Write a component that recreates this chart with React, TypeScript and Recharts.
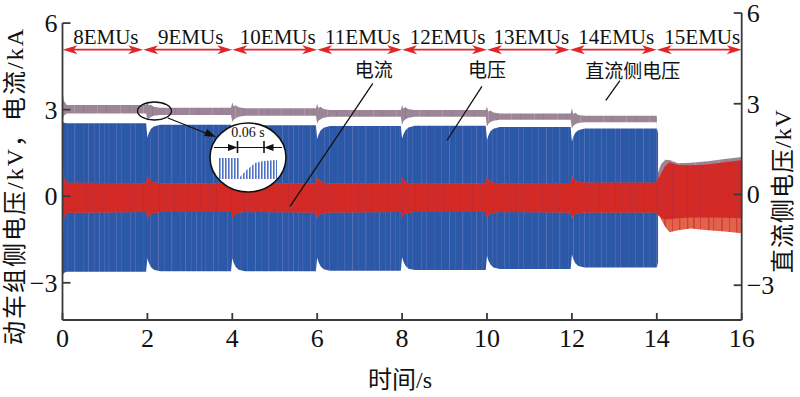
import React from 'react'
import { ComposedChart, Area, XAxis, YAxis, ReferenceLine } from 'recharts'

/** 采样时刻 (s) —— 每次投切前后取点，便于刻画暂态 */
const TIME = [
  0, 0.03, 0.1,
  1.97, 2.0, 2.03, 2.08, 2.15, 2.3,
  3.97, 4.0, 4.03, 4.08, 4.15, 4.3,
  5.97, 6.0, 6.03, 6.08, 6.15, 6.3,
  7.97, 8.0, 8.03, 8.08, 8.15, 8.3,
  9.97, 10.0, 10.03, 10.08, 10.15, 10.3,
  11.97, 12.0, 12.03, 12.08, 12.15, 12.3,
  13.97, 14.0, 14.03, 14.06, 14.1, 14.2, 14.3, 14.5, 14.8, 15.2, 15.6, 16,
]

/** 动车组侧电压包络 (kV) */
const VOLT_HI = [
  2.62, 2.55, 2.53,
  2.53, 2.03, 2.18, 2.33, 2.42, 2.48,
  2.48, 2.01, 2.16, 2.31, 2.4, 2.46,
  2.46, 1.98, 2.13, 2.28, 2.37, 2.43,
  2.43, 2.0, 2.14, 2.29, 2.38, 2.44,
  2.44, 1.95, 2.1, 2.25, 2.34, 2.4,
  2.4, 1.9, 2.05, 2.2, 2.29, 2.35,
  2.35, 2.35, 2.2, null, null, null, null, null, null, null, null, null,
]
const VOLT_LO = [
  -2.78, -2.66, -2.62,
  -2.62, -2.15, -2.3, -2.45, -2.55, -2.6,
  -2.6, -2.15, -2.3, -2.45, -2.55, -2.6,
  -2.6, -2.13, -2.28, -2.43, -2.53, -2.58,
  -2.58, -2.11, -2.26, -2.41, -2.51, -2.56,
  -2.56, -2.07, -2.22, -2.37, -2.47, -2.52,
  -2.52, -2.02, -2.17, -2.32, -2.42, -2.47,
  -2.47, -2.47, -2.3, null, null, null, null, null, null, null, null, null,
]

/** 电流包络 (kA) */
const CURR_HI = [
  1.5, 0.65, 0.47,
  0.45, 0.74, 0.6, 0.54, 0.48, 0.45,
  0.44, 0.7, 0.58, 0.52, 0.47, 0.44,
  0.44, 0.72, 0.6, 0.53, 0.47, 0.44,
  0.43, 0.68, 0.57, 0.5, 0.46, 0.43,
  0.44, 0.7, 0.58, 0.52, 0.47, 0.45,
  0.46, 0.72, 0.6, 0.54, 0.49, 0.47,
  0.47, 0.55, 0.62, 0.66, 0.8, 1.05, 1.18, 1.08, 1.07, 1.1, 1.18, 1.25,
]
const CURR_LO = [
  -2.1, -0.75, -0.57,
  -0.55, -0.8, -0.68, -0.62, -0.58, -0.55,
  -0.55, -0.78, -0.67, -0.61, -0.57, -0.55,
  -0.56, -0.8, -0.69, -0.62, -0.58, -0.56,
  -0.55, -0.76, -0.66, -0.6, -0.57, -0.55,
  -0.55, -0.78, -0.67, -0.61, -0.57, -0.55,
  -0.56, -0.8, -0.68, -0.62, -0.58, -0.56,
  -0.56, -0.62, -0.66, -0.68, -0.8, -1.07, -1.25, -1.18, -1.12, -1.18, -1.22, -1.28,
]
/** 电流密集（深色）部分的下沿，14 s 后浅色尾部在其下方 */
const CURR_CORE_LO = [
  -2.1, -0.75, -0.57,
  -0.55, -0.8, -0.68, -0.62, -0.58, -0.55,
  -0.55, -0.78, -0.67, -0.61, -0.57, -0.55,
  -0.56, -0.8, -0.69, -0.62, -0.58, -0.56,
  -0.55, -0.76, -0.66, -0.6, -0.57, -0.55,
  -0.55, -0.78, -0.67, -0.61, -0.57, -0.55,
  -0.56, -0.8, -0.68, -0.62, -0.58, -0.56,
  -0.56, -0.62, -0.66, -0.68, -0.76, -0.8, -0.8, -0.76, -0.74, -0.74, -0.75, -0.76,
]

/** 直流侧电压包络 (kV，右轴) */
const DC_HI = [
  3.45, 3.1, 2.96,
  2.96, 3.1, 2.95, 2.97, 2.9, 2.87,
  2.87, 3.05, 2.92, 2.95, 2.88, 2.85,
  2.85, 3.0, 2.86, 2.9, 2.83, 2.79,
  2.79, 2.95, 2.84, 2.88, 2.82, 2.79,
  2.79, 2.9, 2.74, 2.78, 2.71, 2.68,
  2.68, 2.85, 2.66, 2.7, 2.63, 2.6,
  2.6, 2.6, 0.7, 0.85, 1.0, 1.15, 1.14, 1.03, 1.05, 1.1, 1.17, 1.24,
]
const DC_LO = [
  2.3, 2.6, 2.68,
  2.68, 2.47, 2.5, 2.56, 2.6, 2.63,
  2.63, 2.4, 2.47, 2.52, 2.57, 2.6,
  2.6, 2.35, 2.44, 2.49, 2.54, 2.57,
  2.57, 2.3, 2.42, 2.49, 2.54, 2.57,
  2.57, 2.25, 2.33, 2.4, 2.44, 2.47,
  2.47, 2.18, 2.26, 2.32, 2.36, 2.39,
  2.39, 2.39, 0.4, 0.5, 0.6, 0.8, 0.8, 0.8, 0.8, 0.8, 0.8, 0.8,
]

/** 编组阶段：分界时刻与标注 */
const STAGE_EDGES = [0, 1.9, 4.0, 6.0, 8.0, 10.0, 11.95, 14.0, 16]
const STAGE_NAMES = ['8EMUs', '9EMUs', '10EMUs', '11EMUs', '12EMUs', '13EMUs', '14EMUs', '15EMUs']

const X_TICKS = [0, 2, 4, 6, 8, 10, 12, 14, 16]
const Y_TICKS = [-3, 0, 3, 6]

const BLUE = '#2c58a8'
const RED = '#d42a26'
const RED_LIGHT = '#e2634c'
const GRAY = '#9b8597'
const ARROW_RED = '#e1262a'
const AXIS = '#3a3a3a'
const NUM_FONT = "'Liberation Serif', 'Times New Roman', serif"
const CJK_FONT = "'Liberation Serif', 'Noto Sans CJK SC', serif"

const chartData = TIME.map((t, i) => ({
  t,
  volt: VOLT_HI[i] == null ? null : [VOLT_LO[i], VOLT_HI[i]],
  curr: [CURR_CORE_LO[i], CURR_HI[i]],
  currAll: [CURR_LO[i], CURR_HI[i]],
  dc: [DC_LO[i], DC_HI[i]],
}))

const fmt = (v: number) => (v < 0 ? `\u2212${Math.abs(v)}` : `${v}`)

function XTick({ x, y, payload }: any) {
  return (
    <g>
      <line x1={x} y1={y} x2={x} y2={y - 7} stroke={AXIS} strokeWidth={1.8} />
      <text x={x} y={y + 27} textAnchor="middle" fontFamily={NUM_FONT} fontSize={26} fill="#111">
        {fmt(payload.value)}
      </text>
    </g>
  )
}

function LeftTick({ x, y, payload }: any) {
  return (
    <g>
      <line x1={x} y1={y} x2={x + 8} y2={y} stroke={AXIS} strokeWidth={1.8} />
      <text x={x - 5} y={y + 9} textAnchor="end" fontFamily={NUM_FONT} fontSize={26} fill="#111">
        {fmt(payload.value)}
      </text>
    </g>
  )
}

function RightTick({ x, y, payload }: any) {
  return (
    <g>
      <line x1={x} y1={y} x2={x - 8} y2={y} stroke={AXIS} strokeWidth={1.8} />
      <text x={x + 5} y={y + 9} textAnchor="start" fontFamily={NUM_FONT} fontSize={26} fill="#111">
        {fmt(payload.value)}
      </text>
    </g>
  )
}

// 双向红箭头 + 上方编组文字
function StageArrow({ x1, y1, x2, name }: any) {
  const h = 4.5
  const L = 15
  return (
    <g>
      <line x1={x1 + 8} y1={y1} x2={x2 - 8} y2={y1} stroke={ARROW_RED} strokeWidth={1.6} />
      <polygon points={`${x1},${y1} ${x1 + L},${y1 - h} ${x1 + L - 4},${y1} ${x1 + L},${y1 + h}`} fill={ARROW_RED} />
      <polygon points={`${x2},${y1} ${x2 - L},${y1 - h} ${x2 - L + 4},${y1} ${x2 - L},${y1 + h}`} fill={ARROW_RED} />
      <text x={(x1 + x2) / 2 + 3} y={y1 - 6} textAnchor="middle" fontFamily={NUM_FONT} fontSize={21} fill="#111">
        {name}
      </text>
    </g>
  )
}

/** 引线标注（数据坐标，左轴） */
const NOTES = [
  { text: '电流', from: [7.31, 3.91], to: [5.36, -0.35], dx: 1, dy: -6 },
  { text: '电压', from: [9.88, 3.81], to: [9.06, 1.94], dx: 5, dy: -9 },
  { text: '直流侧电压', from: [13.13, 4.01], to: [12.8, 3.32], dx: 13, dy: -3 },
]

function NoteLine({ x1, y1, x2, y2, text, dx, dy }: any) {
  return (
    <g>
      <line x1={x1} y1={y1} x2={x2} y2={y2} stroke="#111" strokeWidth={1.3} />
      <text x={x1 + dx} y={y1 + dy} textAnchor="middle" fontFamily={CJK_FONT} fontSize={19} fill="#111">
        {text}
      </text>
    </g>
  )
}

// 纹理：模拟高频波形叠加出的明暗竖纹
const VOLT_STREAKS = [
  [2, 1, '#6b7ec4', 0.55], [7, 0.6, '#8b86c2', 0.4], [11, 1.4, '#4565b3', 0.6],
  [19, 0.7, '#9a90c6', 0.45], [24, 0.8, '#5a72bc', 0.5], [33, 1.1, '#6678c0', 0.45],
  [38, 0.6, '#8d88c4', 0.5], [46, 1.2, '#3c5fae', 0.7], [53, 0.7, '#7c80c2', 0.45],
  [61, 1, '#a296c8', 0.35], [67, 0.6, '#5d74bd', 0.5], [74, 1.3, '#7a82c4', 0.4],
  [83, 0.7, '#4a68b5', 0.6], [88, 0.9, '#9890c6', 0.4], [94, 0.6, '#6a7cc2', 0.5],
] as const
const CURR_STREAKS = [
  [3, 0.8, '#a8283e', 0.55], [9, 1.2, '#b8303a', 0.45], [16, 0.6, '#9c2a48', 0.5],
  [24, 1, '#c03236', 0.55], [29, 0.7, '#a02a44', 0.45], [37, 1.3, '#b02c40', 0.4],
  [45, 0.6, '#9a2a4a', 0.5], [52, 0.9, '#bd3038', 0.5],
] as const

function Defs() {
  return (
    <svg width={0} height={0} style={{ position: 'absolute' }}>
      <defs>
        <pattern id="voltTex" patternUnits="userSpaceOnUse" width={97} height={400}>
          <rect width={97} height={400} fill={BLUE} />
          {VOLT_STREAKS.map(([x, w, c, o], i) => (
            <rect key={i} x={x} width={w} height={400} fill={c} opacity={o} />
          ))}
        </pattern>
        <pattern id="currTex" patternUnits="userSpaceOnUse" width={57} height={400}>
          <rect width={57} height={400} fill={RED} />
          {CURR_STREAKS.map(([x, w, c, o], i) => (
            <rect key={i} x={x} width={w} height={400} fill={c} opacity={o} />
          ))}
        </pattern>
        <pattern id="currTailTex" patternUnits="userSpaceOnUse" width={57} height={400}>
          <rect width={57} height={400} fill={RED_LIGHT} />
          {CURR_STREAKS.map(([x, w, c, o], i) => (
            <rect key={i} x={x} width={w * 1.6} height={400} fill="#c9302e" opacity={o + 0.2} />
          ))}
        </pattern>
        <pattern id="dcTex" patternUnits="userSpaceOnUse" width={23} height={400}>
          <rect width={23} height={400} fill={GRAY} />
          <rect x={5} width={1} height={400} fill="#b6a6b4" opacity={0.6} />
          <rect x={14} width={0.8} height={400} fill="#86708a" opacity={0.6} />
        </pattern>
        <pattern id="zoomBars" patternUnits="userSpaceOnUse" width={3} height={10}>
          <rect x={0} width={1.6} height={10} fill="#4d72c4" />
        </pattern>
      </defs>
    </svg>
  )
}

// 局部放大示意（圈注）与坐标轴标题
function Overlay() {
  return (
    <svg width={800} height={397} style={{ position: 'absolute', left: 0, top: 0, pointerEvents: 'none' }}>
      <ellipse cx={154.5} cy={111} rx={17} ry={9} fill="none" stroke="#111" strokeWidth={1.3} />
      <line x1={168} y1={118} x2={208} y2={134} stroke="#111" strokeWidth={1.3} />
      <polygon points="216,137 204,136 207,129" fill="#111" />
      <ellipse cx={248} cy={157.5} rx={38} ry={34.5} fill="#fff" stroke="#111" strokeWidth={1.6} />
      <text x={248} y={137} textAnchor="middle" fontFamily={NUM_FONT} fontSize={14} fill="#111">0.06 s</text>
      <line x1={214} y1={147.5} x2={282} y2={147.5} stroke="#111" strokeWidth={1.2} />
      <polygon points="237.5,147.5 228,144 228,151" fill="#111" />
      <polygon points="264,147.5 273.5,144 273.5,151" fill="#111" />
      <line x1={237.5} y1={141} x2={237.5} y2={153} stroke="#111" strokeWidth={1.6} />
      <line x1={264} y1={141} x2={264} y2={153} stroke="#111" strokeWidth={1.6} />
      <path d="M218,179 L218,158 L239,158 L240,177 Q247,169 255,163 L263,161 L277,160 L277,179 Z" fill="url(#zoomBars)" />

      <text
        transform="translate(15,186) rotate(-90)"
        textAnchor="middle"
        dominantBaseline="central"
        fontFamily={CJK_FONT}
        fontSize={24}
        letterSpacing={2}
        fill="#111"
      >
        动车组侧电压/kV，电流/kA
      </text>
      <text
        transform="translate(783,191) rotate(-90)"
        textAnchor="middle"
        dominantBaseline="central"
        fontFamily={CJK_FONT}
        fontSize={24}
        letterSpacing={1}
        fill="#111"
      >
        直流侧电压/kV
      </text>
      <text x={400} y={388} textAnchor="middle" fontFamily={CJK_FONT} fontSize={24} fill="#111">
        时间/s
      </text>
    </svg>
  )
}

export default function App() {
  return (
    <div style={{ position: 'absolute', left: 0, top: 0, width: 800, height: 397, background: '#fff' }}>
      <Defs />
      <ComposedChart width={800} height={397} data={chartData} margin={{ top: 13, right: 0, bottom: 0, left: 0 }}>
        <XAxis
          dataKey="t"
          type="number"
          domain={[0, 16]}
          ticks={X_TICKS}
          height={77}
          tickSize={0}
          tickMargin={0}
          tick={<XTick />}
          axisLine={{ stroke: AXIS, strokeWidth: 1.8 }}
          tickLine={false}
          allowDataOverflow
        />
        <YAxis
          yAxisId="L"
          orientation="left"
          type="number"
          domain={[-4.29, 6.35]}
          ticks={Y_TICKS}
          width={62.5}
          tickSize={0}
          tickMargin={0}
          tick={<LeftTick />}
          axisLine={false}
          tickLine={false}
          allowDataOverflow
        />
        <YAxis
          yAxisId="R"
          orientation="right"
          type="number"
          domain={[-4.15, 6]}
          ticks={Y_TICKS}
          width={58.3}
          tickSize={0}
          tickMargin={0}
          tick={<RightTick />}
          axisLine={{ stroke: AXIS, strokeWidth: 1.8 }}
          tickLine={false}
          allowDataOverflow
        />

        <Area yAxisId="R" dataKey="dc" type="linear" stroke="none" fill="url(#dcTex)" fillOpacity={1} isAnimationActive={false} />
        <Area yAxisId="L" dataKey="volt" type="linear" stroke="none" fill="url(#voltTex)" fillOpacity={1} isAnimationActive={false} />
        <Area yAxisId="L" dataKey="currAll" type="linear" stroke="none" fill="url(#currTailTex)" fillOpacity={1} isAnimationActive={false} />
        <Area yAxisId="L" dataKey="curr" type="linear" stroke="none" fill="url(#currTex)" fillOpacity={1} isAnimationActive={false} />

        <ReferenceLine
          yAxisId="L"
          segment={[{ x: 0, y: -4.29 }, { x: 0, y: 6 }]}
          stroke={AXIS}
          strokeWidth={1.8}
        />

        {STAGE_NAMES.map((name, i) => (
          <ReferenceLine
            key={name}
            yAxisId="L"
            segment={[{ x: STAGE_EDGES[i], y: 5.08 }, { x: STAGE_EDGES[i + 1], y: 5.08 }]}
            shape={(p: any) => <StageArrow {...p} name={name} />}
          />
        ))}

        {NOTES.map((n) => (
          <ReferenceLine
            key={n.text}
            yAxisId="L"
            segment={[{ x: n.from[0], y: n.from[1] }, { x: n.to[0], y: n.to[1] }]}
            shape={(p: any) => <NoteLine {...p} text={n.text} dx={n.dx} dy={n.dy} />}
          />
        ))}
      </ComposedChart>
      <Overlay />
    </div>
  )
}
